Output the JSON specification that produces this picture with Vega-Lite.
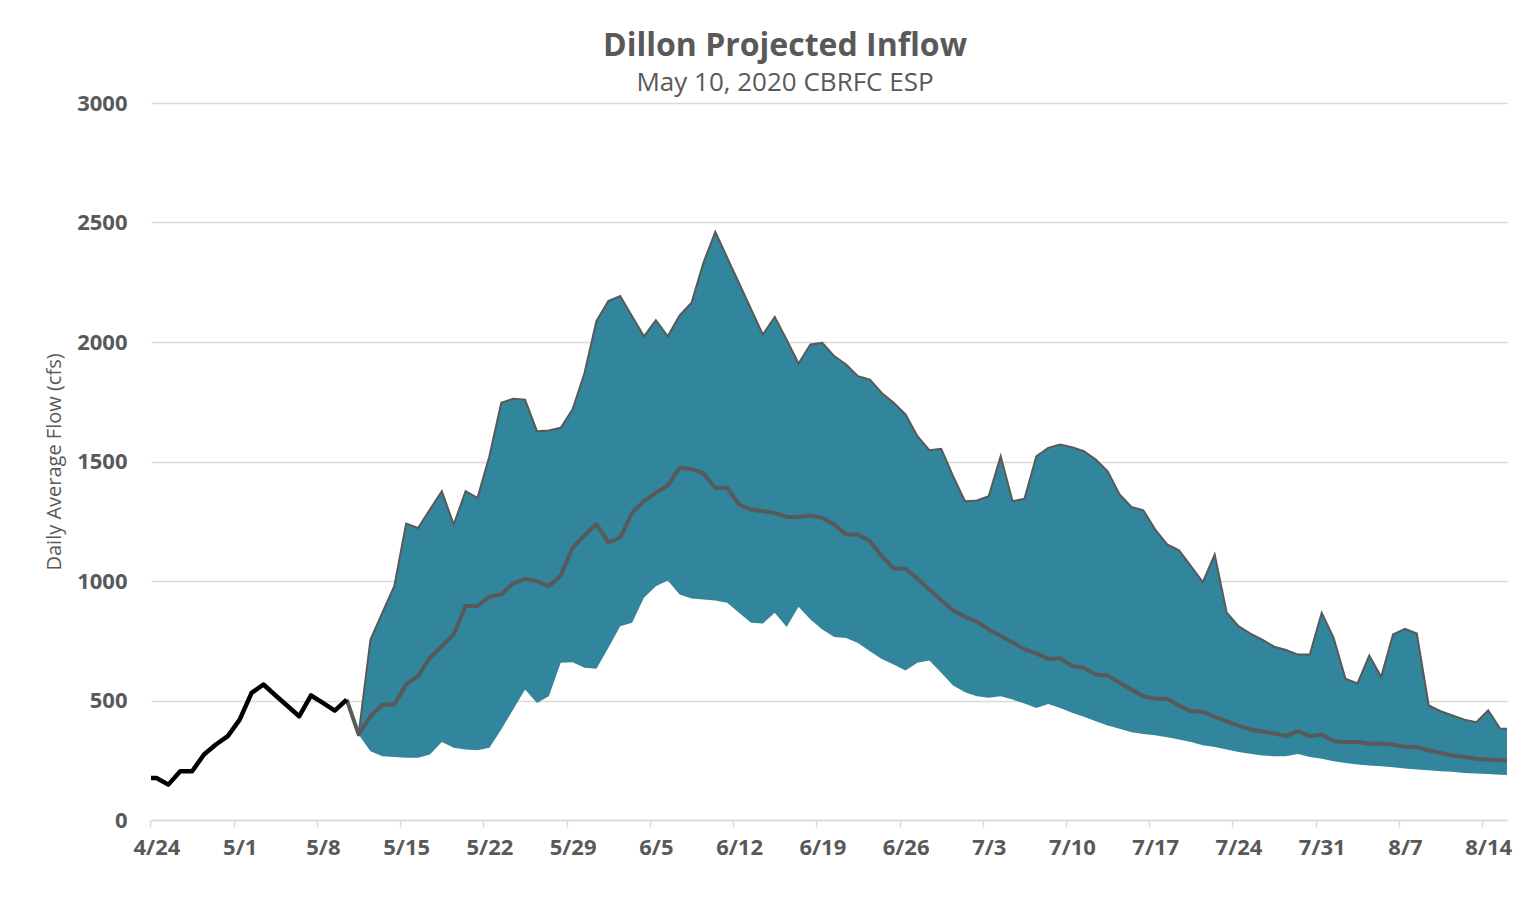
{
  "$schema": "https://vega.github.io/schema/vega-lite/v6.json",
  "width": 1356,
  "height": 717,
  "autosize": {"type": "none"},
  "padding": {"left": 151, "top": 103, "right": 12, "bottom": 91},
  "background": "white",
  "config": {
    "view": {"stroke": null},
    "font": "Open Sans"
  },
  "title": {
    "text": "Dillon Projected Inflow",
    "subtitle": "May 10, 2020 CBRFC ESP",
    "anchor": "middle",
    "dx": -44,
    "offset": -5,
    "font": "Open Sans",
    "fontSize": 32,
    "fontWeight": "bold",
    "color": "#595959",
    "subtitleFont": "Open Sans",
    "subtitleFontSize": 26,
    "subtitleColor": "#595959",
    "subtitlePadding": 7
  },
  "data": {
    "format": {"parse": {"date": "date:'%Y-%m-%d'"}},
    "values": [
      {"date": "2020-04-23", "obs": 176},
      {"date": "2020-04-24", "obs": 176},
      {"date": "2020-04-25", "obs": 148},
      {"date": "2020-04-26", "obs": 204},
      {"date": "2020-04-27", "obs": 204},
      {"date": "2020-04-28", "obs": 274},
      {"date": "2020-04-29", "obs": 316},
      {"date": "2020-04-30", "obs": 351},
      {"date": "2020-05-01", "obs": 420},
      {"date": "2020-05-02", "obs": 532},
      {"date": "2020-05-03", "obs": 567},
      {"date": "2020-05-04", "obs": 522},
      {"date": "2020-05-05", "obs": 478},
      {"date": "2020-05-06", "obs": 434},
      {"date": "2020-05-07", "obs": 521},
      {"date": "2020-05-08", "obs": 490},
      {"date": "2020-05-09", "obs": 458},
      {"date": "2020-05-10", "obs": 504, "med": 504},
      {"date": "2020-05-11", "med": 358, "lo": 358, "hi": 358},
      {"date": "2020-05-12", "med": 434, "lo": 288, "hi": 755},
      {"date": "2020-05-13", "med": 483, "lo": 267, "hi": 868},
      {"date": "2020-05-14", "med": 483, "lo": 264, "hi": 978},
      {"date": "2020-05-15", "med": 567, "lo": 260, "hi": 1240},
      {"date": "2020-05-16", "med": 602, "lo": 260, "hi": 1222},
      {"date": "2020-05-17", "med": 679, "lo": 274, "hi": 1299},
      {"date": "2020-05-18", "med": 727, "lo": 326, "hi": 1376},
      {"date": "2020-05-19", "med": 776, "lo": 302, "hi": 1236},
      {"date": "2020-05-20", "med": 895, "lo": 295, "hi": 1376},
      {"date": "2020-05-21", "med": 895, "lo": 292, "hi": 1348},
      {"date": "2020-05-22", "med": 934, "lo": 302, "hi": 1522},
      {"date": "2020-05-23", "med": 944, "lo": 379, "hi": 1746},
      {"date": "2020-05-24", "med": 990, "lo": 462, "hi": 1762},
      {"date": "2020-05-25", "med": 1009, "lo": 546, "hi": 1759},
      {"date": "2020-05-26", "med": 999, "lo": 490, "hi": 1627},
      {"date": "2020-05-27", "med": 978, "lo": 518, "hi": 1630},
      {"date": "2020-05-28", "med": 1023, "lo": 658, "hi": 1641},
      {"date": "2020-05-29", "med": 1139, "lo": 660, "hi": 1718},
      {"date": "2020-05-30", "med": 1190, "lo": 637, "hi": 1870},
      {"date": "2020-05-31", "med": 1238, "lo": 633, "hi": 2087},
      {"date": "2020-06-01", "med": 1162, "lo": 720, "hi": 2171},
      {"date": "2020-06-02", "med": 1181, "lo": 811, "hi": 2192},
      {"date": "2020-06-03", "med": 1285, "lo": 825, "hi": 2108},
      {"date": "2020-06-04", "med": 1334, "lo": 930, "hi": 2024},
      {"date": "2020-06-05", "med": 1369, "lo": 978, "hi": 2091},
      {"date": "2020-06-06", "med": 1400, "lo": 1002, "hi": 2024},
      {"date": "2020-06-07", "med": 1474, "lo": 944, "hi": 2111},
      {"date": "2020-06-08", "med": 1469, "lo": 927, "hi": 2164},
      {"date": "2020-06-09", "med": 1450, "lo": 923, "hi": 2331},
      {"date": "2020-06-10", "med": 1390, "lo": 918, "hi": 2461},
      {"date": "2020-06-11", "med": 1390, "lo": 909, "hi": 2353},
      {"date": "2020-06-12", "med": 1320, "lo": 867, "hi": 2246},
      {"date": "2020-06-13", "med": 1299, "lo": 825, "hi": 2138},
      {"date": "2020-06-14", "med": 1292, "lo": 822, "hi": 2031},
      {"date": "2020-06-15", "med": 1285, "lo": 867, "hi": 2105},
      {"date": "2020-06-16", "med": 1268, "lo": 808, "hi": 2010},
      {"date": "2020-06-17", "med": 1268, "lo": 892, "hi": 1910},
      {"date": "2020-06-18", "med": 1274, "lo": 839, "hi": 1990},
      {"date": "2020-06-19", "med": 1264, "lo": 797, "hi": 1997},
      {"date": "2020-06-20", "med": 1236, "lo": 766, "hi": 1941},
      {"date": "2020-06-21", "med": 1195, "lo": 762, "hi": 1906},
      {"date": "2020-06-22", "med": 1195, "lo": 741, "hi": 1857},
      {"date": "2020-06-23", "med": 1167, "lo": 706, "hi": 1843},
      {"date": "2020-06-24", "med": 1104, "lo": 674, "hi": 1787},
      {"date": "2020-06-25", "med": 1053, "lo": 651, "hi": 1746},
      {"date": "2020-06-26", "med": 1050, "lo": 626, "hi": 1697},
      {"date": "2020-06-27", "med": 1010, "lo": 658, "hi": 1606},
      {"date": "2020-06-28", "med": 964, "lo": 667, "hi": 1547},
      {"date": "2020-06-29", "med": 920, "lo": 616, "hi": 1553},
      {"date": "2020-06-30", "med": 878, "lo": 563, "hi": 1439},
      {"date": "2020-07-01", "med": 850, "lo": 535, "hi": 1334},
      {"date": "2020-07-02", "med": 830, "lo": 518, "hi": 1337},
      {"date": "2020-07-03", "med": 797, "lo": 511, "hi": 1355},
      {"date": "2020-07-04", "med": 770, "lo": 518, "hi": 1522},
      {"date": "2020-07-05", "med": 744, "lo": 504, "hi": 1334},
      {"date": "2020-07-06", "med": 715, "lo": 487, "hi": 1344},
      {"date": "2020-07-07", "med": 697, "lo": 469, "hi": 1522},
      {"date": "2020-07-08", "med": 674, "lo": 485, "hi": 1557},
      {"date": "2020-07-09", "med": 677, "lo": 469, "hi": 1571},
      {"date": "2020-07-10", "med": 644, "lo": 449, "hi": 1560},
      {"date": "2020-07-11", "med": 637, "lo": 432, "hi": 1543},
      {"date": "2020-07-12", "med": 609, "lo": 413, "hi": 1508},
      {"date": "2020-07-13", "med": 605, "lo": 395, "hi": 1459},
      {"date": "2020-07-14", "med": 574, "lo": 382, "hi": 1362},
      {"date": "2020-07-15", "med": 546, "lo": 367, "hi": 1310},
      {"date": "2020-07-16", "med": 518, "lo": 360, "hi": 1296},
      {"date": "2020-07-17", "med": 507, "lo": 355, "hi": 1215},
      {"date": "2020-07-18", "med": 507, "lo": 346, "hi": 1153},
      {"date": "2020-07-19", "med": 479, "lo": 337, "hi": 1128},
      {"date": "2020-07-20", "med": 455, "lo": 326, "hi": 1062},
      {"date": "2020-07-21", "med": 453, "lo": 313, "hi": 995},
      {"date": "2020-07-22", "med": 432, "lo": 305, "hi": 1111},
      {"date": "2020-07-23", "med": 413, "lo": 295, "hi": 869},
      {"date": "2020-07-24", "med": 395, "lo": 285, "hi": 811},
      {"date": "2020-07-25", "med": 379, "lo": 277, "hi": 780},
      {"date": "2020-07-26", "med": 370, "lo": 270, "hi": 755},
      {"date": "2020-07-27", "med": 362, "lo": 267, "hi": 725},
      {"date": "2020-07-28", "med": 351, "lo": 267, "hi": 711},
      {"date": "2020-07-29", "med": 372, "lo": 276, "hi": 692},
      {"date": "2020-07-30", "med": 351, "lo": 264, "hi": 692},
      {"date": "2020-07-31", "med": 358, "lo": 256, "hi": 867},
      {"date": "2020-08-01", "med": 330, "lo": 246, "hi": 762},
      {"date": "2020-08-02", "med": 326, "lo": 239, "hi": 591},
      {"date": "2020-08-03", "med": 326, "lo": 232, "hi": 571},
      {"date": "2020-08-04", "med": 319, "lo": 228, "hi": 688},
      {"date": "2020-08-05", "med": 320, "lo": 225, "hi": 599},
      {"date": "2020-08-06", "med": 316, "lo": 221, "hi": 776},
      {"date": "2020-08-07", "med": 306, "lo": 215, "hi": 800},
      {"date": "2020-08-08", "med": 305, "lo": 211, "hi": 780},
      {"date": "2020-08-09", "med": 292, "lo": 208, "hi": 479},
      {"date": "2020-08-10", "med": 281, "lo": 204, "hi": 455},
      {"date": "2020-08-11", "med": 270, "lo": 202, "hi": 437},
      {"date": "2020-08-12", "med": 264, "lo": 197, "hi": 420},
      {"date": "2020-08-13", "med": 256, "lo": 195, "hi": 409},
      {"date": "2020-08-14", "med": 253, "lo": 192, "hi": 459},
      {"date": "2020-08-15", "med": 250, "lo": 189, "hi": 383},
      {"date": "2020-08-16", "med": 248, "lo": 187, "hi": 381}
    ]
  },
  "encoding": {
    "x": {
      "field": "date",
      "type": "temporal",
      "scale": {
        "domain": [
          {"year": 2020, "month": 4, "date": 23, "hours": 13},
          {"year": 2020, "month": 8, "date": 15, "hours": 14}
        ]
      },
      "axis": {
        "title": null,
        "values": [
          {"year": 2020, "month": 4, "date": 24},
          {"year": 2020, "month": 5, "date": 1},
          {"year": 2020, "month": 5, "date": 8},
          {"year": 2020, "month": 5, "date": 15},
          {"year": 2020, "month": 5, "date": 22},
          {"year": 2020, "month": 5, "date": 29},
          {"year": 2020, "month": 6, "date": 5},
          {"year": 2020, "month": 6, "date": 12},
          {"year": 2020, "month": 6, "date": 19},
          {"year": 2020, "month": 6, "date": 26},
          {"year": 2020, "month": 7, "date": 3},
          {"year": 2020, "month": 7, "date": 10},
          {"year": 2020, "month": 7, "date": 17},
          {"year": 2020, "month": 7, "date": 24},
          {"year": 2020, "month": 7, "date": 31},
          {"year": 2020, "month": 8, "date": 7},
          {"year": 2020, "month": 8, "date": 14}
        ],
        "format": "%-m/%-d",
        "grid": false,
        "domainColor": "#d9d9d9",
        "domainWidth": 1.5,
        "tickColor": "#d9d9d9",
        "tickWidth": 1.5,
        "tickSize": 7,
        "tickOffset": -6,
        "labelOffset": 6,
        "labelPadding": 10,
        "labelFont": "Open Sans",
        "labelFontSize": 22,
        "labelFontWeight": "bold",
        "labelColor": "#595959",
        "labelOverlap": false,
        "labelFlush": false
      }
    }
  },
  "layer": [
    {
      "mark": {"type": "area", "color": "#31859c", "clip": true, "opacity": 1},
      "encoding": {
        "y": {
          "field": "lo",
          "type": "quantitative",
          "scale": {"domain": [0, 3000], "nice": false},
          "axis": {
            "title": "Daily Average Flow (cfs)",
            "titleFont": "Open Sans",
            "titleFontSize": 20,
            "titleFontWeight": "normal",
            "titleColor": "#595959",
            "titlePadding": 12,
            "values": [0, 500, 1000, 1500, 2000, 2500, 3000],
            "format": "d",
            "grid": true,
            "gridColor": "#d9d9d9",
            "gridWidth": 1.5,
            "domain": false,
            "ticks": false,
            "labelPadding": 24,
            "labelFont": "Open Sans",
            "labelFontSize": 22,
            "labelFontWeight": "bold",
            "labelColor": "#595959"
          }
        },
        "y2": {"field": "hi"}
      }
    },
    {
      "mark": {"type": "line", "color": "#595959", "strokeWidth": 2, "clip": true},
      "encoding": {"y": {"field": "hi", "type": "quantitative"}}
    },
    {
      "mark": {"type": "line", "color": "#595959", "strokeWidth": 4, "clip": true, "strokeJoin": "round"},
      "encoding": {"y": {"field": "med", "type": "quantitative"}}
    },
    {
      "mark": {"type": "line", "color": "#000000", "strokeWidth": 4.5, "clip": true, "strokeJoin": "round"},
      "encoding": {"y": {"field": "obs", "type": "quantitative"}}
    }
  ]
}
